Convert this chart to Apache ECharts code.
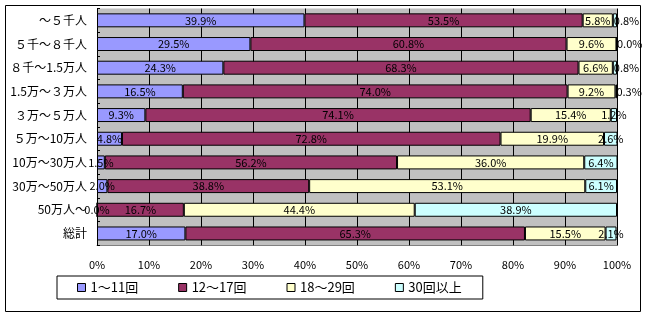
<!DOCTYPE html>
<html>
<head>
<meta charset="utf-8">
<script src="https://cdn.jsdelivr.net/npm/echarts@6/dist/echarts.min.js"></script>
<style>
  html, body { margin: 0; padding: 0; background: #fff; }
  #main { width: 646px; height: 317px; }
</style>
</head>
<body>
<div id="main"></div>
<script>
// 人口規模別の回数構成比
var categories = ['～５千人', '５千～８千人', '８千～1.5万人', '1.5万～３万人', '３万～５万人',
                  '５万～10万人', '10万～30万人', '30万～50万人', '50万人～', '総計'];
var seriesNames = ['1～11回', '12～17回', '18～29回', '30回以上'];
var s1 = [39.9, 29.5, 24.3, 16.5, 9.3, 4.8, 1.5, 2.0, 0.0, 17.0];
var s2 = [53.5, 60.8, 68.3, 74.0, 74.1, 72.8, 56.2, 38.8, 16.7, 65.3];
var s3 = [5.8, 9.6, 6.6, 9.2, 15.4, 19.9, 36.0, 53.1, 44.4, 15.5];
var s4 = [0.8, 0.0, 0.8, 0.3, 1.2, 2.6, 6.4, 6.1, 38.9, 2.1];
var colors = ['#9999FF', '#993366', '#FFFFCC', '#CCFFFF'];

var font = '"Noto Sans CJK JP", "Noto Sans", sans-serif';

var chart = echarts.init(document.getElementById('main'));

function makeSeries(name, data, color, isLast) {
    return {
        name: name,
        type: 'bar',
        stack: 'all',
        barWidth: '59%',
        // 最後の系列でごく小さい値はラベルを左寄せ
        data: data.map(function (v) {
            if (isLast && v < 1) {
                return { value: v, label: { position: 'insideLeft', distance: 1 } };
            }
            return v;
        }),
        itemStyle: { color: color, borderColor: '#000', borderWidth: 1 },
        label: {
            show: true,
            position: 'inside',
            color: '#000',
            fontSize: 11,
            fontFamily: font,
            formatter: function (p) { return p.value.toFixed(1) + '%'; }
        }
    };
}

var option = {
    animation: false,
    backgroundColor: '#fff',
    color: colors,
    grid: {
        left: 97, right: 29, top: 8.5, bottom: 71.7,
        show: true,
        backgroundColor: '#C0C0C0',
        borderWidth: 0
    },
    xAxis: {
        type: 'value',
        min: 0, max: 100, interval: 10,
        axisLine: { show: true, lineStyle: { color: '#808080', width: 1 } },
        axisTick: { show: true, inside: true, length: 3, lineStyle: { color: '#000' } },
        axisLabel: { formatter: '{value}%', color: '#000', fontSize: 11, fontFamily: font, margin: 14 },
        splitLine: { show: true, lineStyle: { color: '#000', width: 1 } }
    },
    yAxis: {
        type: 'category',
        inverse: true,
        data: categories,
        axisLine: { show: true, lineStyle: { color: '#000', width: 1 } },
        axisTick: { show: true, inside: true, length: 3, lineStyle: { color: '#000' } },
        axisLabel: { color: '#000', fontSize: 12, fontFamily: font, margin: 10 }
    },
    legend: {
        data: seriesNames,
        left: 57, top: 276,
        orient: 'horizontal',
        itemWidth: 8, itemHeight: 8, itemGap: 40,
        padding: [5, 21, 5, 20],
        borderColor: '#000', borderWidth: 1,
        icon: 'rect',
        itemStyle: { borderColor: '#000', borderWidth: 1 },
        textStyle: { color: '#000', fontSize: 13, fontFamily: font }
    },
    graphic: [{
        type: 'rect',
        shape: { x: 5.5, y: 5.5, width: 635, height: 306 },
        style: { fill: 'none', stroke: '#000', lineWidth: 1 },
        silent: true
    }],
    series: [
        makeSeries(seriesNames[0], s1, colors[0], false),
        makeSeries(seriesNames[1], s2, colors[1], false),
        makeSeries(seriesNames[2], s3, colors[2], false),
        makeSeries(seriesNames[3], s4, colors[3], true)
    ]
};

chart.setOption(option);
</script>
</body>
</html>
